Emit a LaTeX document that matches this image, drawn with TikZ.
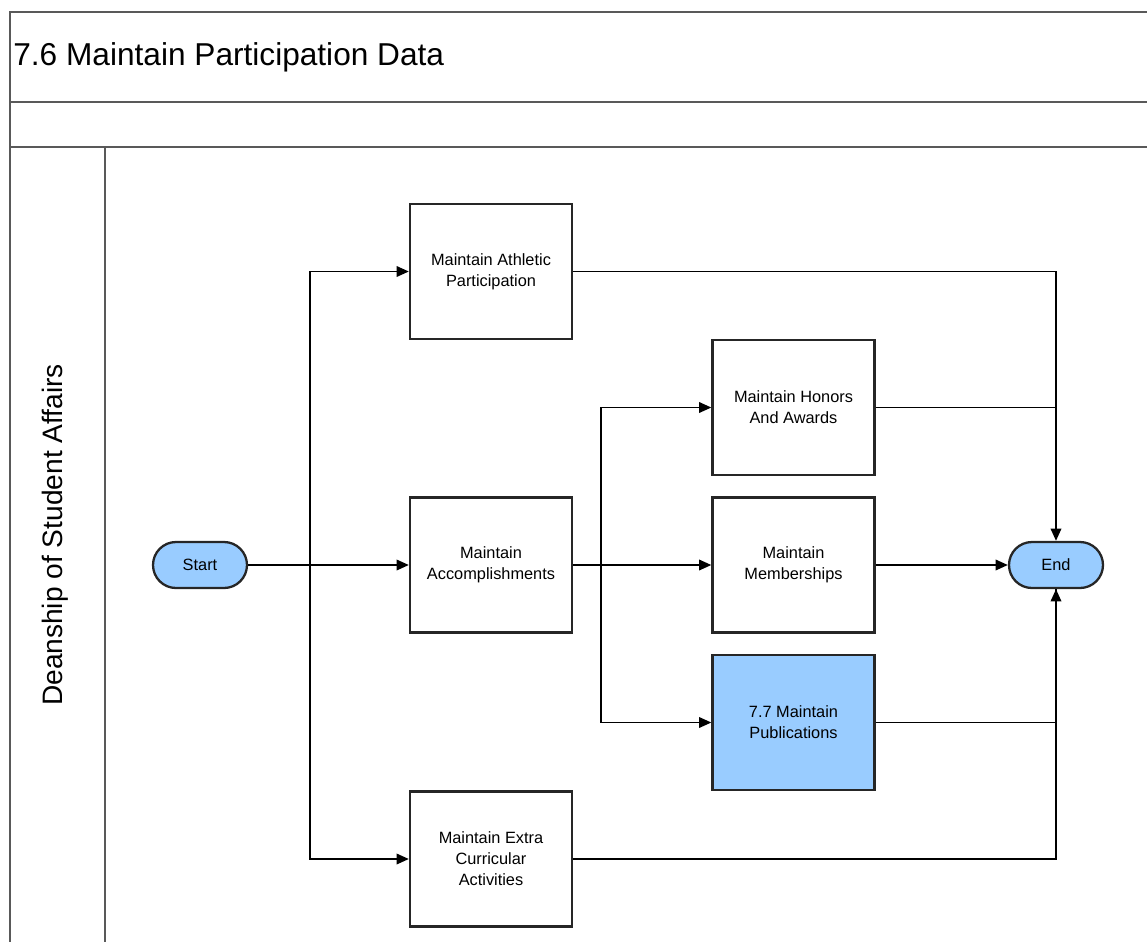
\documentclass[tikz,border=0pt]{standalone}
\usepackage{fontspec}
\setmainfont{Liberation Sans}
\usetikzlibrary{arrows.meta,positioning}
\definecolor{lblue}{HTML}{99CCFF}

\begin{document}
\begin{tikzpicture}[task/.style={draw=black!85,line width=1.3pt,minimum width=3.24cm,minimum height=2.7cm,align=center,font=\fontsize{9.3}{12}\selectfont},
  term/.style={draw=black!85,line width=1.3pt,fill=lblue,rounded corners=0.46cm,minimum width=1.88cm,minimum height=0.92cm,font=\fontsize{9.3}{12}\selectfont},
  flow/.style={line width=1.1pt,-{Triangle[length=7pt,width=6pt]}},
  link/.style={line width=1.1pt},
  lane/.style={draw=black!65,line width=1.5pt}]
\useasboundingbox (0,0) rectangle (22.94,-18.84);
% pool and lane
\draw[lane] (22.94,-0.24) -- (0.2,-0.24) -- (0.2,-18.84);
\draw[lane] (0.2,-2.04) -- (22.94,-2.04);
\draw[lane] (0.2,-2.94) -- (22.94,-2.94);
\draw[lane] (2.1,-2.94) -- (2.1,-18.84);
\node[anchor=west,inner sep=0pt,font=\fontsize{18}{20}\selectfont] (title) at (0.26,-1.14) {7.6 Maintain Participation Data};
\node[rotate=90,font=\fontsize{16}{18}\selectfont] (dsa) at (1.1,-10.7) {Deanship of Student Affairs};
% steps
\node[term] (start) at (4.0,-11.3) {Start};
\node[task] (ath) at (9.82,-5.43) {Maintain Athletic\\Participation};
\node[task] (acc) at (9.82,-11.3) {Maintain\\Accomplishments};
\node[task] (ext) at (9.82,-17.18) {Maintain Extra\\Curricular\\Activities};
\node[task] (hon) at (15.87,-8.15) {Maintain Honors\\And Awards};
\node[task] (mem) at (15.87,-11.3) {Maintain\\Memberships};
\node[task,fill=lblue] (pub) at (15.87,-14.45) {7.7 Maintain\\Publications};
\node[term] (end) at (21.12,-11.3) {End};
\coordinate (fork1) at (6.2,-11.3);
\coordinate (fork2) at (12.02,-11.3);
% flows
\draw[flow] (start) -- (acc);
\draw[flow] (fork1) |- (ath);
\draw[flow] (fork1) |- (ext);
\draw[flow] (acc) -- (mem);
\draw[flow] (fork2) |- (hon);
\draw[flow] (fork2) |- (pub);
\draw[flow] (ath) -| (end);
\draw[link] (hon.east) -- (hon.east -| end);
\draw[flow] (mem) -- (end);
\draw[flow] (pub) -| (end);
\draw[link] (ext) -| (end.south);
\end{tikzpicture}
\end{document}
